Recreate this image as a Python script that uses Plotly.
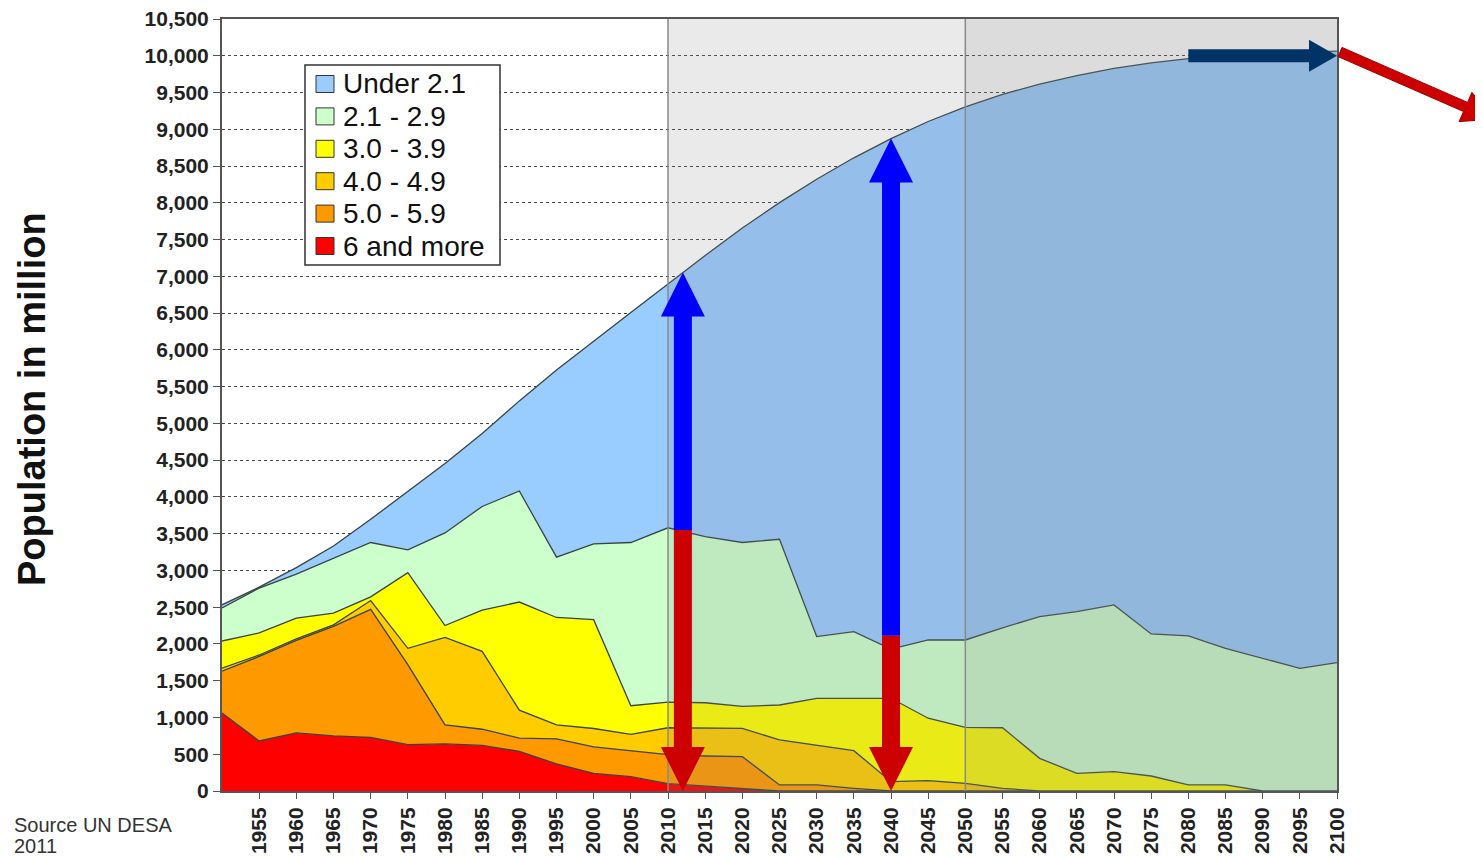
import numpy as np
import plotly.graph_objects as go

# ---------------- data (population in million, by total fertility group) ----------------
years = list(range(1950, 2101, 5))

pop_6_and_more = [1060, 680, 790, 750, 730, 630, 640, 620, 540, 370, 240, 195, 100, 65, 35, 0,
                  0, 0, 0, 0, 0, 0, 0, 0, 0, 0, 0, 0, 0, 0, 0]
pop_5_0_5_9 = [570, 1150, 1260, 1490, 1740, 1090, 260, 220, 180, 340, 360, 355, 395, 411, 432, 82,
               82, 36, 0, 0, 0, 0, 0, 0, 0, 0, 0, 0, 0, 0, 0]
pop_4_0_4_9 = [40, 20, 20, 20, 120, 220, 1190, 1060, 380, 190, 250, 220, 365, 377, 386, 612,
               544, 513, 127, 140, 104, 36, 0, 0, 0, 0, 0, 0, 0, 0, 0]
pop_3_0_3_9 = [370, 300, 280, 160, 50, 1030, 160, 560, 1470, 1460, 1480, 390, 350, 347, 297, 476,
               635, 712, 1134, 850, 762, 824, 444, 240, 263, 204, 82, 82, 0, 0, 0]
pop_2_1_2_9 = [450, 610, 600, 750, 740, 310, 1260, 1410, 1510, 820, 1030, 2220, 2370, 2260, 2230, 2254,
               839, 907, 669, 1064, 1188, 1360, 1928, 2200, 2267, 1932, 2027, 1859, 1805, 1669, 1746]
pop_under_2_1 = [42, 12, 88, 163, 316, 796, 943, 993, 1226, 2546, 2763, 3127, 3316, 3824, 4277, 4579,
                 6221, 6444, 6944, 7052, 7252, 7256, 7243, 7290, 7297, 7767, 7853, 8064, 8228, 8380, 8316]

series_names = ["6 and more", "5.0 - 5.9", "4.0 - 4.9", "3.0 - 3.9", "2.1 - 2.9", "Under 2.1"]
series_values = [pop_6_and_more, pop_5_0_5_9, pop_4_0_4_9, pop_3_0_3_9, pop_2_1_2_9, pop_under_2_1]
series_colors = ["#ff0000", "#ff9900", "#ffcc00", "#ffff00", "#ccffcc", "#99ccff"]

y_ticks = list(range(0, 10501, 500))
x_ticks = list(range(1955, 2101, 5))

# annotation arrows (year, split value)
arrow_years = [2012, 2040]
arrow_split = [3550, 2110]

# ---------------- geometry ----------------
OFF = 8                      # page body margin
W, H = 1483 - OFF, 857 - OFF
PL, PT, PR, PB = 222, 19, 1337, 791   # plot area in page pixels
PW, PH = PR - PL, PB - PT
ML, MT = PL - OFF, PT - OFF
MR, MB = W - ML - PW, H - MT - PH
YR = 150.0 / PW      # years per pixel
VR = 10500.0 / PH    # value per pixel


def pp(px, py):
    """page pixel -> paper coords"""
    return (px - PL) / PW, (PB - py) / PH


fig = go.Figure()
for name, vals, col in zip(series_names, series_values, series_colors):
    fig.add_trace(go.Scatter(
        x=years, y=vals, name=name, mode="lines", stackgroup="one",
        fillcolor=col, line=dict(color="#384444", width=1.3), showlegend=False,
    ))

total = np.sum(np.array(series_values), axis=0)

shapes = [
    dict(type="rect", xref="x", yref="y", x0=2010, x1=2050, y0=0, y1=10500,
         fillcolor="rgba(128,128,128,0.17)", line=dict(width=0), layer="above"),
    dict(type="rect", xref="x", yref="y", x0=2050, x1=2100, y0=0, y1=10500,
         fillcolor="rgba(128,128,128,0.28)", line=dict(width=0), layer="above"),
    dict(type="line", xref="x", yref="y", x0=2010, x1=2010, y0=0, y1=10500,
         line=dict(color="#8a8a8a", width=1.5), layer="above"),
    dict(type="line", xref="x", yref="y", x0=2050, x1=2050, y0=0, y1=10500,
         line=dict(color="#8a8a8a", width=1.5), layer="above"),
]


def varrow(xc, y0, yt, color):
    sw = 9 * YR
    hw = 22 * YR
    hl = 44 * VR * (1 if yt > y0 else -1)
    p = (f"M{xc-sw},{y0} L{xc-sw},{yt-hl} L{xc-hw},{yt-hl} L{xc},{yt} "
         f"L{xc+hw},{yt-hl} L{xc+sw},{yt-hl} L{xc+sw},{y0} Z")
    return dict(type="path", xref="x", yref="y", path=p, fillcolor=color,
                line=dict(width=0), layer="above")


for yr, sp in zip(arrow_years, arrow_split):
    tip = float(np.interp(yr, years, total))
    shapes.append(varrow(yr, sp, tip, "#0000ff"))
    shapes.append(varrow(yr, sp, 0, "#cc0000"))

# horizontal navy arrow at 10,000 from 2080 to 2100
hx0, hx1, hy = 2080, 2100, 10000
sh = 6.5 * VR
hh = 16 * VR
hlx = 28 * YR
p = (f"M{hx0},{hy-sh} L{hx1-hlx},{hy-sh} L{hx1-hlx},{hy-hh} L{hx1},{hy} "
     f"L{hx1-hlx},{hy+hh} L{hx1-hlx},{hy+sh} L{hx0},{hy+sh} Z")
shapes.append(dict(type="path", xref="x", yref="y", path=p, fillcolor="#003366",
                   line=dict(width=0), layer="above"))

# diagonal red arrow outside the plot (page pixels -> paper coords)
sx, sy = 1340, 52
tx, ty = 1493, 119
dx, dy = tx - sx, ty - sy
L = (dx * dx + dy * dy) ** 0.5
ux, uy = dx / L, dy / L
nx, ny = -uy, ux
sw2, hw2, hl2 = 5, 16, 30
bx, by = tx - ux * hl2, ty - uy * hl2
pts = [(sx + nx * sw2, sy + ny * sw2), (bx + nx * sw2, by + ny * sw2), (bx + nx * hw2, by + ny * hw2),
       (tx, ty), (bx - nx * hw2, by - ny * hw2), (bx - nx * sw2, by - ny * sw2),
       (sx - nx * sw2, sy - ny * sw2)]
ppts = [pp(a, b) for a, b in pts]
path = "M" + " L".join(f"{a},{b}" for a, b in ppts) + " Z"
shapes.append(dict(type="path", xref="paper", yref="paper", path=path, fillcolor="#cc0000",
                   line=dict(color="#a00000", width=1), layer="above"))

FONT = "Liberation Sans, Arial, sans-serif"
annotations = []

# ---------------- legend (box, swatches, labels) ----------------
lx0, ly0, lx1, ly1 = 305, 65, 500, 265
a0, b0 = pp(lx0, ly0)
a1, b1 = pp(lx1, ly1)
shapes.append(dict(type="rect", xref="paper", yref="paper", x0=a0, y0=b1, x1=a1, y1=b0,
                   fillcolor="white", line=dict(color="#333333", width=1.5), layer="above"))
row_y0, row_dy = 84, 32.4
for i, (name, col) in enumerate(zip(series_names[::-1], series_colors[::-1])):
    cy = row_y0 + i * row_dy
    q0 = pp(316, cy - 8.5)
    q1 = pp(334, cy + 8.5)
    shapes.append(dict(type="rect", xref="paper", yref="paper", x0=q0[0], y0=q1[1], x1=q1[0], y1=q0[1],
                       fillcolor=col, line=dict(color="#333333", width=1), layer="above"))
    tpos = pp(341, cy)
    annotations.append(dict(text=name, xref="paper", yref="paper", x=tpos[0], y=tpos[1],
                            xanchor="left", yanchor="middle", showarrow=False,
                            font=dict(family=FONT, size=28, color="#111111")))

tt = pp(32, 399)
annotations.append(dict(text="Population in million", xref="paper", yref="paper",
                        x=tt[0], y=tt[1], xanchor="center", yanchor="middle",
                        textangle=-90, showarrow=False,
                        font=dict(family=FONT, size=38, color="#111111", weight="bold")))
s1 = pp(12, 825)
annotations.append(dict(text="Source UN DESA", xref="paper", yref="paper",
                        x=s1[0], y=s1[1], xanchor="left", yanchor="middle",
                        showarrow=False, font=dict(family=FONT, size=20, color="#333333")))
s2 = pp(12, 846)
annotations.append(dict(text="2011", xref="paper", yref="paper",
                        x=s2[0], y=s2[1], xanchor="left", yanchor="middle",
                        showarrow=False, font=dict(family=FONT, size=20, color="#333333")))

fig.update_layout(
    width=W, height=H, autosize=False,
    margin=dict(l=ML, r=MR, t=MT, b=MB),
    paper_bgcolor="white", plot_bgcolor="white",
    shapes=shapes, annotations=annotations,
    showlegend=False,
    xaxis=dict(
        range=[1950, 2100], tickvals=x_ticks, ticktext=[str(v) for v in x_ticks],
        tickangle=-90, showgrid=False, zeroline=False, ticks="outside", ticklen=6,
        tickcolor="#555555", showline=True, mirror=True, linecolor="#555555", linewidth=2,
        tickfont=dict(family=FONT, size=21, color="#222222", weight="bold"), automargin=False,
        ticklabeloverflow="allow",
    ),
    yaxis=dict(
        range=[0, 10500], tickvals=y_ticks, tickformat=",", showgrid=True,
        gridcolor="#444444", griddash="3px,3px", gridwidth=1, zeroline=False,
        ticks="outside", ticklen=7, tickcolor="#555555", showline=True, mirror=True,
        linecolor="#555555", linewidth=2,
        tickfont=dict(family=FONT, size=21, color="#222222", weight="bold"), automargin=False,
        ticklabeloverflow="allow",
    ),
)

fig.write_html("out.html")
